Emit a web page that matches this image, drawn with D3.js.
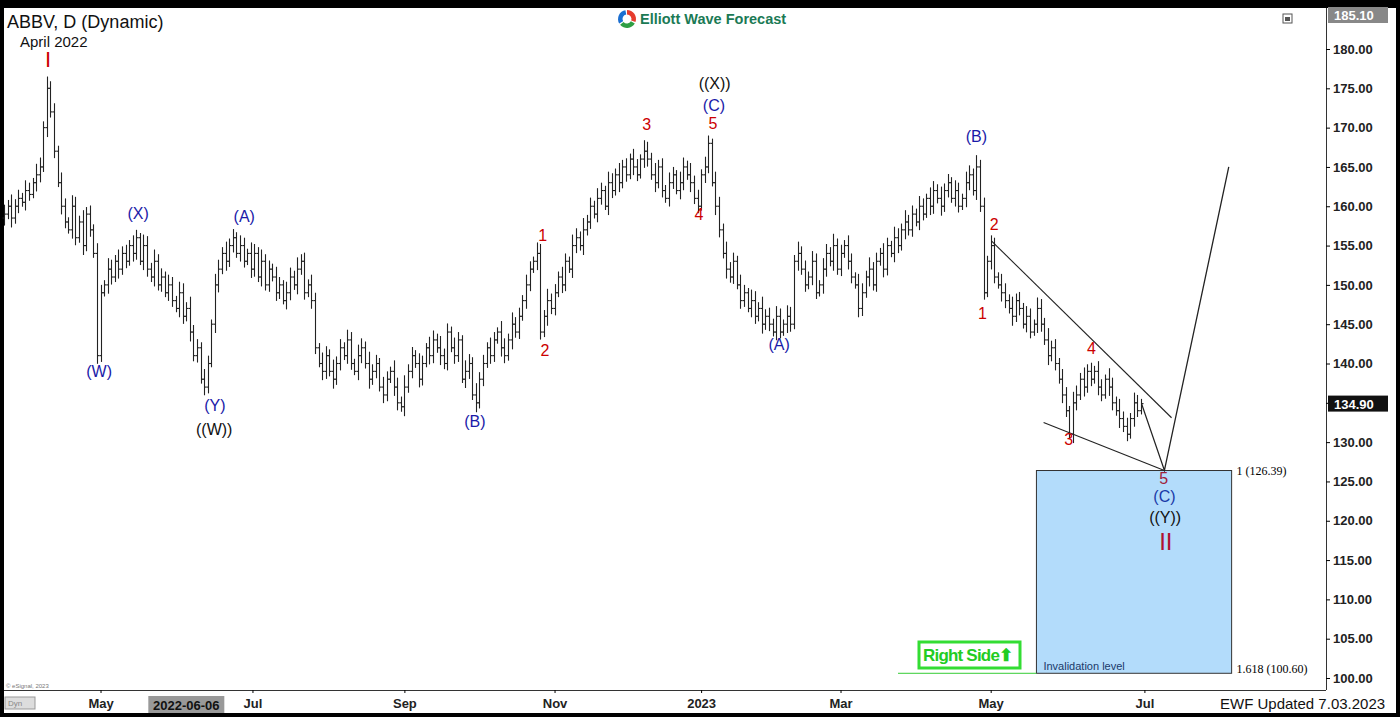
<!DOCTYPE html>
<html><head><meta charset="utf-8">
<script src="https://cdn.jsdelivr.net/npm/d3@7"></script>
<style>body{margin:0;background:#000;}svg{display:block;font-family:Arial,"Liberation Sans",sans-serif;}</style>
</head><body>
<svg id="c" width="1400" height="717"></svg>
<script>
const closes = [
159,160,158.5,160,161,160.5,162,161.5,163,164,
165,170,175,172,167,163,160,158,157,160,
156,158,155,159,157,154,141,149,150,152,
151,153,152,154,153,155,154,156,153,155,
152,151,153,150,151,149,150,148,147,149,
146,147,144,141,142,138,137,140,145,150,
152,154,153,155,156,154,155,153,154,152,
154,151,153,150,152,151,149,150,148,149,
151,150,152,153,149,150,148,142,140,139,
141,139,138,140,142,141,143,140,139,141,
142,140,138,139,140,137,136,138,139,137,
135,134.5,137,139,141,140,138,140,142,141,
143,142,141,140,144,142,141,143,138,139,
140,136,135,138,140,142,141,143,144,142,
141,143,145,144,146,148,150,152,153,154,
144,146,148,147,149,151,150,153,152,155,
156,155,157,158,160,159,161,162,160,163,
162,164,163,165,164,166,165,164,166,167,
166,164,163,165,162,161,163,164,162,163,
165,164,163,161,160,164,165,168,163,160,
157,154,152,151,153,150,148,149,147,148,
146,147,145,146,145,144,146,144,145,146,
145,153,154,152,150,151,153,149,150,152,
154,153,155,152,154,155,153,151,150,147,
149,151,152,150,153,154,152,155,154,156,
155,157,158,157,159,158,160,159,161,160,
162,161,160,162,163,161,162,160,161,163,
164,162,165,160,149,153,155,151,150,149,
148,147,146,148,147,145,146,144,145,147,
145,143,141,142,140,138,136,134,131,135,
136,138,137,139,138,139,137,136,138,137,
135,134,133,132,131,133,135,134,134.9];
const wicks = [1.2,0.8,1.5,0.9,1.1,0.7,1.3,1.0,0.6,1.4];
const monthTicks = [[27,"May"],[69.5,"Jul"],[112,"Sep"],[154,"Nov"],[195,"2023"],[234,"Mar"],[276,"May"],[319,"Jul"]];
const crossTick = [51,"2022-06-06"];
const priceTicks = [100,105,110,115,120,125,130,135,140,145,150,155,160,165,170,175,180];
const waveLabels = [
 ["I",12.3,178.4,"#cc0000",22],["(W)",26.6,138.8,"#1a1aa8",16],["(X)",37.5,158.9,"#1a1aa8",16],
 ["(Y)",59,134.5,"#1a1aa8",16],["((W))",58.8,131.4,"#111",16],["(A)",67.2,158.5,"#1a1aa8",16],
 ["(B)",131.7,132.5,"#1a1aa8",16],["1",150.7,156.1,"#cc0000",16],["2",151.3,141.5,"#cc0000",16],
 ["3",179.8,170.2,"#cc0000",16],["5",198.3,170.3,"#cc0000",16],["(C)",198.6,172.7,"#1a1aa8",16],
 ["((X))",198.8,175.4,"#111",16],["4",194.4,158.8,"#cc0000",16],["(A)",216.8,142.2,"#1a1aa8",16],
 ["(B)",272,168.7,"#1a1aa8",16],["2",277,157.5,"#cc0000",16],["1",273.7,146.2,"#cc0000",16],
 ["4",304.2,141.7,"#cc0000",16],["3",297.8,130.2,"#cc0000",16],["5",324.4,125.2,"#a0203a",16],
 ["(C)",324.6,122.9,"#1a3aa8",16],["((Y))",324.8,120.3,"#111",16],["II",325,117.1,"#b01030",24]];
const trendLines = [[[276.2,155.6],[326.6,133.1]],[[290.8,132.5],[324.6,126.4]]];
const projection = [[318.2,134.9],[324.6,126.4],[342.6,165.0]];
const zoneTop = 126.39, zoneBottom = 100.60, zoneStart = 288.8, zoneEnd = 343.4;
const lastPrice = 134.90, topPrice = 185.10;

const svg = d3.select("#c");
const L=4,R=1326,T=8,B=690;
const x = d3.scaleLinear().domain([0,369.8]).range([L,R]);
const y = d3.scaleLinear().domain([100,180]).range([678,49]);
svg.append("rect").attr("x",0).attr("y",0).attr("width",1400).attr("height",717).attr("fill","#000");
svg.append("rect").attr("x",L).attr("y",T).attr("width",1392).attr("height",705).attr("fill","#fff");
const bars = closes.map((c,i)=>{const o=i?closes[i-1]:c-0.5;const w=wicks[i%wicks.length];
 return {i,o,c,h:Math.max(o,c)+w,l:Math.min(o,c)-w*0.8};});
const g = svg.append("g").attr("stroke","#222").attr("stroke-width",1.1);
bars.forEach(b=>{const cx=Math.round(x(b.i))+0.5;
 g.append("line").attr("x1",cx).attr("x2",cx).attr("y1",y(b.h)).attr("y2",y(b.l));
 g.append("line").attr("x1",cx-2).attr("x2",cx).attr("y1",y(b.o)).attr("y2",y(b.o));
 g.append("line").attr("x1",cx).attr("x2",cx+2).attr("y1",y(b.c)).attr("y2",y(b.c));});
svg.append("rect").attr("x",x(zoneStart)).attr("y",y(zoneTop)).attr("width",x(zoneEnd)-x(zoneStart)).attr("height",y(zoneBottom)-y(zoneTop))
 .attr("fill","#b3dcfb").attr("stroke","#333").attr("stroke-width",1);
svg.append("line").attr("x1",898).attr("x2",x(zoneStart)).attr("y1",y(zoneBottom)).attr("y2",y(zoneBottom)).attr("stroke","#33cc33");
svg.append("text").attr("x",x(zoneStart)+7).attr("y",y(zoneBottom)-3).attr("font-size",11).attr("fill","#1a3a6a").text("Invalidation level");
svg.append("text").attr("x",x(zoneEnd)+5).attr("y",y(zoneTop)+4).attr("font-size",12).attr("font-family","Liberation Serif,serif").text("1 (126.39)");
svg.append("text").attr("x",x(zoneEnd)+5).attr("y",y(zoneBottom)).attr("font-size",12).attr("font-family","Liberation Serif,serif").text("1.618 (100.60)");
const ln = d3.line().x(d=>x(d[0])).y(d=>y(d[1]));
trendLines.forEach(t=>svg.append("path").attr("d",ln(t)).attr("stroke","#222").attr("fill","none").attr("stroke-width",1.1));
svg.append("path").attr("d",ln(projection)).attr("stroke","#222").attr("fill","none").attr("stroke-width",1.3);
waveLabels.forEach(([t,i,p,c,s])=>svg.append("text").attr("x",x(i)).attr("y",y(p)).attr("text-anchor","middle").attr("dominant-baseline","middle")
 .attr("font-size",s).attr("fill",c).attr("font-family",t.startsWith("I")?"Liberation Sans Narrow,Arial,sans-serif":null).text(t));
svg.append("rect").attr("x",919).attr("y",642).attr("width",101).attr("height",26).attr("fill","#fff").attr("stroke","#33dd33").attr("stroke-width",3);
svg.append("text").attr("x",923).attr("y",661).attr("font-size",17).attr("font-weight","bold").attr("fill","#22cc22").attr("letter-spacing",-0.8).text("Right Side\u2B06");
svg.append("line").attr("x1",R+0.5).attr("x2",R+0.5).attr("y1",T).attr("y2",B).attr("stroke","#333");
svg.append("line").attr("x1",L).attr("x2",R).attr("y1",B+0.5).attr("y2",B+0.5).attr("stroke","#333");
const ya = svg.append("g").attr("transform",`translate(${R},0)`).call(d3.axisRight(y).tickValues(priceTicks).tickFormat(d3.format(".2f")).tickSize(4));
ya.select(".domain").remove();
ya.selectAll("text").attr("font-size",13).attr("font-weight","bold").attr("fill","#222").attr("font-family","Arial,sans-serif");
const xa = svg.append("g").attr("transform",`translate(0,${B})`).call(d3.axisBottom(x).tickValues(monthTicks.map(d=>d[0])).tickFormat((d,k)=>monthTicks[k][1]).tickSize(3));
xa.select(".domain").remove();
xa.selectAll("text").attr("font-size",13).attr("font-weight","bold").attr("fill","#222").attr("dy","0.9em").attr("font-family","Arial,sans-serif");
svg.append("rect").attr("x",x(crossTick[0])-38).attr("y",696).attr("width",76).attr("height",17).attr("fill","#999");
svg.append("text").attr("x",x(crossTick[0])).attr("y",710).attr("text-anchor","middle").attr("font-size",13).attr("font-weight","bold").attr("fill","#111").text(crossTick[1]);
svg.append("rect").attr("x",R+2).attr("y",y(lastPrice)-8).attr("width",60).attr("height",16).attr("fill","#111");
svg.append("text").attr("x",R+8).attr("y",y(lastPrice)+5).attr("font-size",13).attr("font-weight","bold").attr("fill","#fff").text(lastPrice.toFixed(2));
svg.append("rect").attr("x",R+2).attr("y",7).attr("width",60).attr("height",16).attr("fill","#888");
svg.append("text").attr("x",R+8).attr("y",20).attr("font-size",13).attr("font-weight","bold").attr("fill","#fff").text(topPrice.toFixed(2));
svg.append("text").attr("x",7).attr("y",28).attr("font-size",18).attr("fill","#111").text("ABBV, D (Dynamic)");
svg.append("text").attr("x",20).attr("y",47).attr("font-size",15).attr("fill","#111").text("April 2022");
svg.append("text").attr("x",1220).attr("y",709).attr("font-size",15).attr("fill","#111").text("EWF Updated 7.03.2023");
svg.append("text").attr("x",6).attr("y",688).attr("font-size",6).attr("fill","#777").text("© eSignal, 2023");
svg.append("rect").attr("x",5).attr("y",697).attr("width",30).attr("height",12).attr("fill","#ddd").attr("stroke","#999");
svg.append("text").attr("x",8).attr("y",706).attr("font-size",8).attr("fill","#888").text("Dyn");
svg.append("rect").attr("x",1283).attr("y",14).attr("width",9).attr("height",9).attr("fill","#fff").attr("stroke","#555");
svg.append("rect").attr("x",1285).attr("y",17).attr("width",5).attr("height",4).attr("fill","#555");
const lg = svg.append("g").attr("transform","translate(627,19)");
[["#e63c2e",0],["#2f9e44",120],["#1c6fd1",240]].forEach(([c,a])=>lg.append("path").attr("d",d3.arc()({innerRadius:4.5,outerRadius:9,startAngle:a*Math.PI/180,endAngle:(a+110)*Math.PI/180})).attr("fill",c));
svg.append("text").attr("x",640).attr("y",24).attr("font-size",14.5).attr("font-weight","bold").attr("fill","#1b7a55").text("Elliott Wave Forecast");
</script>
</body></html>
